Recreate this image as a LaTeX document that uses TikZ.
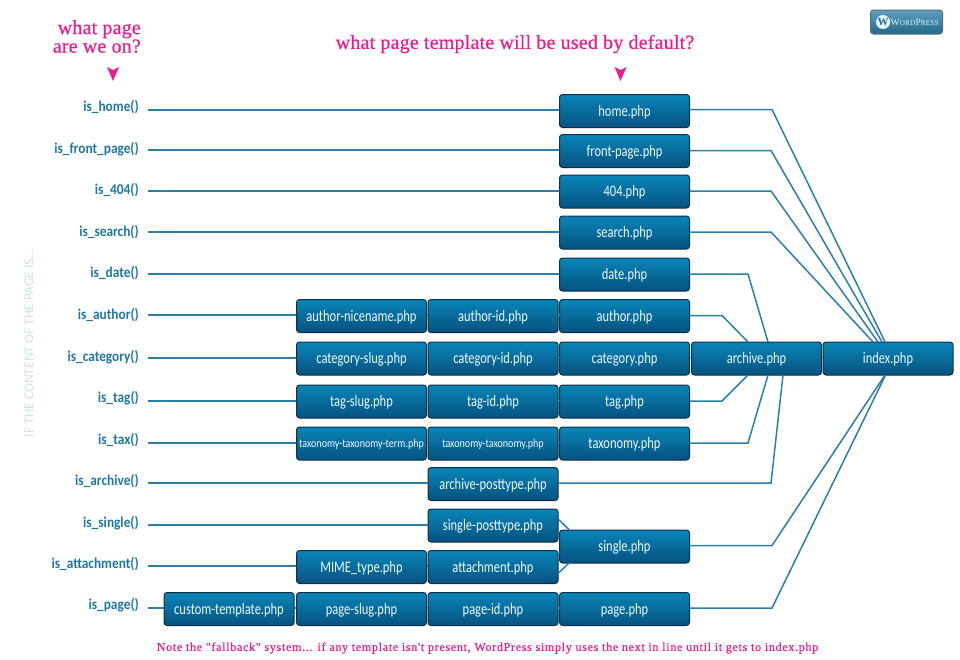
\documentclass[tikz,border=0pt]{standalone}
\usepackage{fontspec}
\setmainfont{Carlito}
\newfontfamily\boxfont[FakeStretch=0.78]{Carlito}
\newfontfamily\smallboxfont[FakeStretch=0.84]{Carlito}
\newfontfamily\fnfont[FakeStretch=0.89]{Carlito}
\newfontfamily\headfont[LetterSpace=1,FakeBold=0.5]{Liberation Serif}
\newfontfamily\notefont[LetterSpace=6,FakeBold=0.4]{Liberation Serif}
\newfontfamily\logofont{Liberation Serif}
\definecolor{pinkc}{HTML}{EC1C8E}
\definecolor{linec}{HTML}{2A80AB}
\definecolor{labc}{HTML}{1F78A4}
\definecolor{boxt}{HTML}{0A85B8}
\definecolor{boxb}{HTML}{05527F}
\definecolor{boxd}{HTML}{0F3044}
\definecolor{sidec}{HTML}{CFE0E8}
\tikzset{
  x=1pt,y=-1pt,
  tpl/.style={draw=boxd,line width=1pt,rounded corners=3pt,top color=boxt,bottom color=boxb,
    minimum width=130pt,minimum height=33pt,inner sep=0pt,text=white!93!cyan,
    text height=10pt,text depth=0pt,
    font=\boxfont\fontsize{16}{17}\selectfont},
  tplsmall/.style={tpl,text height=8pt,font=\smallboxfont\fontsize{12}{12}\selectfont},
  fn/.style={anchor=east,inner sep=0pt,inner xsep=9pt,minimum height=12pt,text=labc,
    font=\fnfont\bfseries\fontsize{15}{16}\selectfont},
  conn/.style={draw=linec,line width=1.5pt,line join=miter},
  lead/.style={draw=linec,line width=2pt},
  marker/.style={fill=pinkc,draw=none},
  head/.style={text=pinkc,inner sep=0pt,font=\headfont\fontsize{20}{17}\selectfont}
}
\begin{document}
\begin{tikzpicture}
\useasboundingbox (0,0) rectangle (960,659);
\fill[white] (0,0) rectangle (960,659);

% headings
\node[head,align=right,anchor=north east] (qa) at (141,20) {what page\\are we on?};
\node[head,anchor=center] (qb) at (515,44) {what page template will be used by default?};
\fill[marker] (107,67) -- (113,70) -- (119,67) -- (113,81) -- cycle;
\fill[marker] (614.5,67) -- (620.5,70) -- (626.5,67) -- (620.5,81) -- cycle;

% side text
\node[rotate=90,text=sidec,inner sep=0pt,font=\fontsize{13.5}{14}\selectfont] (side) at (29,343) {IF THE CONTENT OF THE PAGE IS...};

% function labels
\node[fn] (lhome) at (148,107) {is\_home()};
\node[fn] (lfront) at (148,149) {is\_front\_page()};
\node[fn] (l404) at (148,190) {is\_404()};
\node[fn] (lsearch) at (148,232) {is\_search()};
\node[fn] (ldate) at (148,273) {is\_date()};
\node[fn] (lauthor) at (148,315) {is\_author()};
\node[fn] (lcat) at (148,357) {is\_category()};
\node[fn] (ltag) at (148,398) {is\_tag()};
\node[fn] (ltax) at (148,440) {is\_tax()};
\node[fn] (larch) at (148,481) {is\_archive()};
\node[fn] (lsingle) at (148,523) {is\_single()};
\node[fn] (lattach) at (148,564) {is\_attachment()};
\node[fn] (lpage) at (148,605) {is\_page()};

% template boxes
\node[tpl] (home) at (624.5,111) {home.php};
\node[tpl] (front) at (624.5,151) {front-page.php};
\node[tpl] (p404) at (624.5,191.5) {404.php};
\node[tpl] (search) at (624.5,232.5) {search.php};
\node[tpl] (date) at (624.5,274.5) {date.php};
\node[tpl] (authn) at (361.5,316) {author-nicename.php};
\node[tpl] (authi) at (493,316) {author-id.php};
\node[tpl] (auth) at (624.5,316) {author.php};
\node[tpl] (cats) at (361.5,358.5) {category-slug.php};
\node[tpl] (cati) at (493,358.5) {category-id.php};
\node[tpl] (cat) at (624.5,358.5) {category.php};
\node[tpl] (archive) at (756.5,358.5) {archive.php};
\node[tpl] (index) at (888,358.5) {index.php};
\node[tpl] (tags) at (361.5,401.5) {tag-slug.php};
\node[tpl] (tagi) at (493,401.5) {tag-id.php};
\node[tpl] (tag) at (624.5,401.5) {tag.php};
\node[tplsmall] (taxt) at (361.5,443.5) {taxonomy-taxonomy-term.php};
\node[tplsmall] (taxx) at (493,443.5) {taxonomy-taxonomy.php};
\node[tpl] (tax) at (624.5,443.5) {taxonomy.php};
\node[tpl] (archp) at (493,484) {archive-posttype.php};
\node[tpl] (singp) at (493,525.5) {single-posttype.php};
\node[tpl] (single) at (624.5,546.5) {single.php};
\node[tpl] (mime) at (361.5,567) {MIME\_type.php};
\node[tpl] (attach) at (493,567) {attachment.php};
\node[tpl] (custom) at (229,609) {custom-template.php};
\node[tpl] (pages) at (361.5,609) {page-slug.php};
\node[tpl] (pagei) at (493,609) {page-id.php};
\node[tpl] (page) at (624.5,609) {page.php};

% lead lines
\foreach \a/\b in {lhome/home,lfront/front,l404/p404,lsearch/search,ldate/date,lauthor/authn,lcat/cats,ltag/tags,ltax/taxt,larch/archp,lsingle/singp,lattach/mime,lpage/custom}
  \draw[lead] ([yshift=1pt]\a.east |- \b.west) -- ([yshift=1pt]\b.west);

% chains
\foreach \a/\b in {authn/authi,authi/auth,cats/cati,cati/cat,cat/archive,archive/index,tags/tagi,tagi/tag,taxt/taxx,taxx/tax,mime/attach,custom/pages,pages/pagei,pagei/page}
  \draw[conn] ([yshift=1pt]\a.east) -- ([yshift=1pt]\b.west);

% fan to index.php
\coordinate (it1) at (873,342);
\coordinate (it2) at (878,342);
\coordinate (it3) at (882,342);
\coordinate (it4) at (885,342);
\coordinate (ib1) at (885,375);
\coordinate (ib2) at (885.5,375);
\coordinate (at1) at (748,342);
\coordinate (at2) at (768,342);
\coordinate (ab1) at (748,375);
\coordinate (ab2) at (768,375);
\coordinate (ab3) at (783,375);
\draw[conn] ([yshift=1.5pt]home.east) -- (772,109.5) -- (it4);
\draw[conn] ([yshift=.5pt]front.east) -- (771,150.5) -- (it3);
\draw[conn] ([yshift=.5pt]p404.east) -- (771,191) -- (it2);
\draw[conn] ([yshift=.5pt]search.east) -- (771,232) -- (it1);
\draw[conn] ([yshift=.5pt]date.east) -- (748,274) -- (at2);
\draw[conn] ([yshift=.5pt]auth.east) -- (722,315.5) -- (at1);
\draw[conn] ([yshift=.5pt]tag.east) -- (722,401) -- (ab1);
\draw[conn] ([yshift=.5pt]tax.east) -- (748,443) -- (ab2);
\draw[conn] ([yshift=1pt]archp.east) -- (771,483) -- (ab3);
\draw[conn] ([yshift=1pt]single.east) -- (772,545.5) -- (ib1);
\draw[conn] ([yshift=1pt]page.east) -- (772,608) -- (ib2);
\draw[conn] (singp.east) ++(0,-6) -- (569,529.5);
\draw[conn] (attach.east) ++(0,6) -- (569,563);

% logo
\node[draw=boxd!70,line width=1pt,rounded corners=3pt,top color=linec!75!white,bottom color=linec!80!black,
  minimum width=72pt,minimum height=24pt,inner sep=0pt] (logo) at (906.5,22) {};
\node[circle,fill=white!90!cyan,draw=none,minimum size=14pt,inner sep=0pt,text=linec!80!black,font=\logofont\bfseries\fontsize{11}{11}\selectfont] (logow) at (883,22) {W};
\node[anchor=west,inner sep=0pt,text=white!85!cyan,font=\logofont] (logot) at (890.5,22) {{\fontsize{9.5}{10}\selectfont W}{\fontsize{7.5}{10}\selectfont ORD}{\fontsize{9.5}{10}\selectfont P}{\fontsize{7.5}{10}\selectfont RESS}};

% note
\node[text=pinkc,inner sep=0pt,font=\notefont\fontsize{12}{12}\selectfont] (note) at (487.5,648) {Note the "fallback" system... if any template isn't present, WordPress simply uses the next in line until it gets to index.php};
\end{tikzpicture}
\end{document}
